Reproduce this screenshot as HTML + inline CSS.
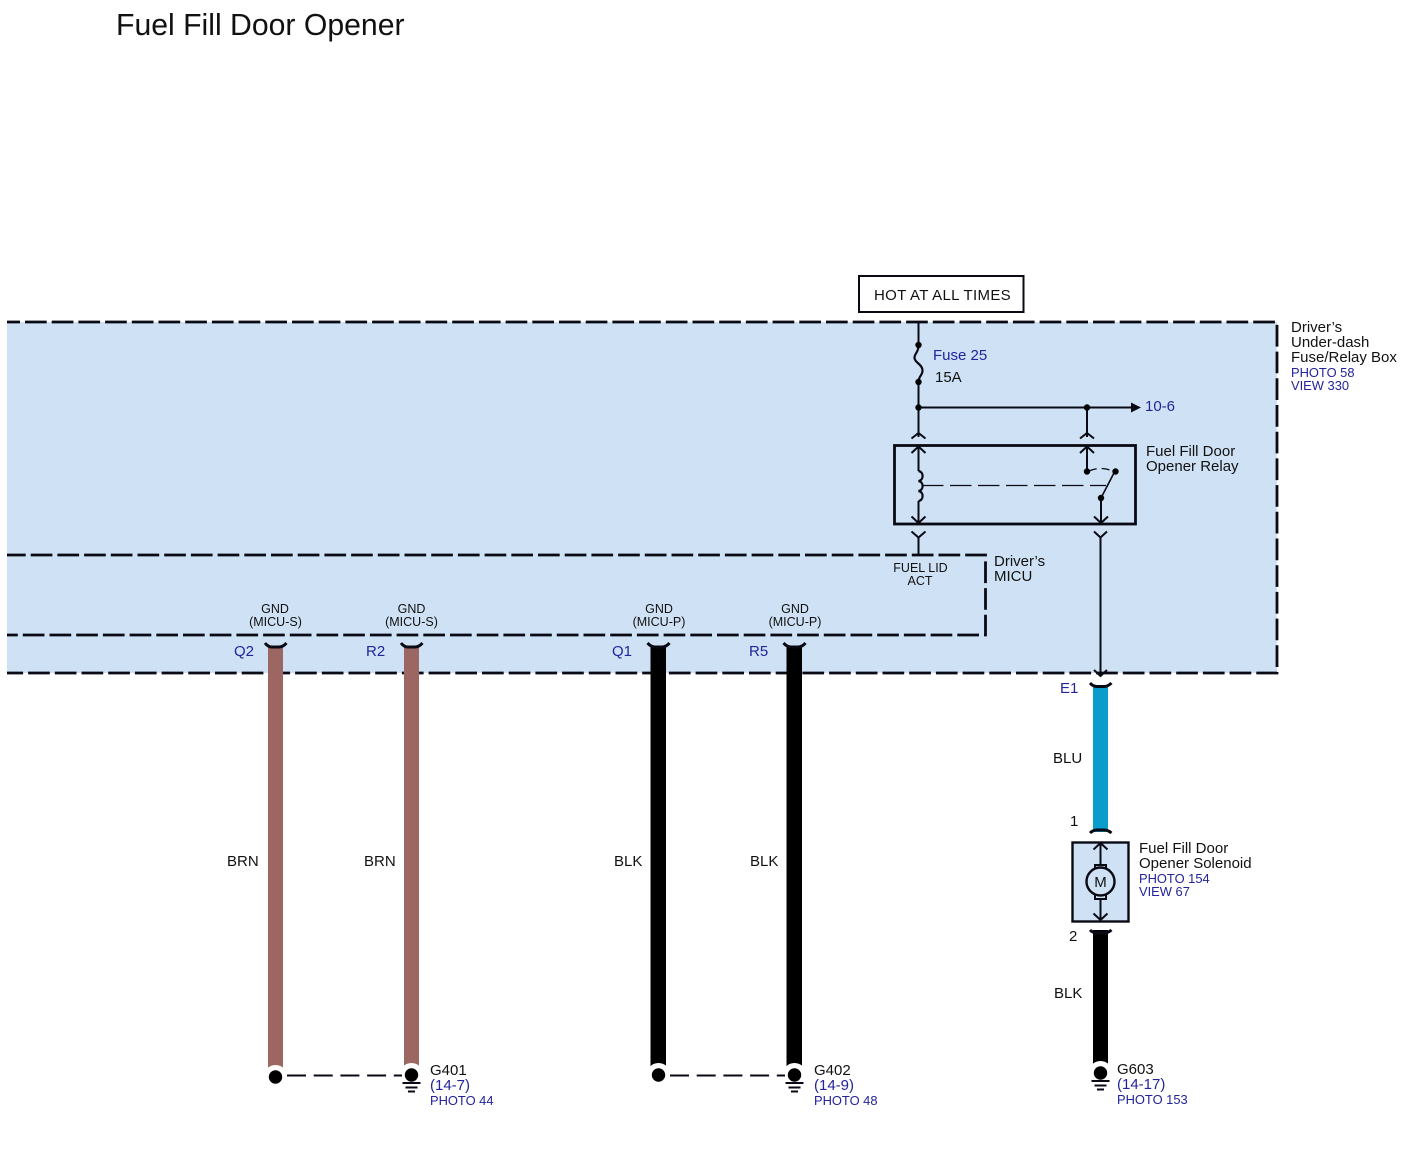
<!DOCTYPE html>
<html><head><meta charset="utf-8"><style>
html,body{margin:0;padding:0;background:#fff}
svg{display:block}
text{font-family:"Liberation Sans",sans-serif;fill:#111;font-size:15px}
.b{fill:#23239b}
.s{font-size:12.900px}
.g{font-size:12.500px}
.d{stroke:#0a0a14;stroke-width:2.800;fill:none;stroke-dasharray:21.700 5}
.l{stroke:#0a0a14;stroke-width:2;fill:none}
.c{stroke:#0a0a14;stroke-width:3;fill:none}
</style></head><body>
<svg width="1404" height="1167" viewBox="0 0 1404 1167" xmlns="http://www.w3.org/2000/svg">
<rect width="1404" height="1167" fill="#fff"/>
<text x="116" y="35" style="font-size:30.200px">Fuel Fill Door Opener</text>

<rect x="7" y="322" width="1270" height="351" fill="#cfe2f5"/>
<path class="d" stroke-dashoffset="8.700" d="M7 322H1277V673H7"/>
<path class="d" stroke-dashoffset="3" d="M7 555H985.500V635H7"/>

<rect x="859" y="276" width="164.500" height="36" fill="#fff" stroke="#0a0a14" stroke-width="2"/>
<text x="874" y="300" style="letter-spacing:.33px">HOT AT ALL TIMES</text>

<!-- Fuse -->
<path class="l" d="M918.500 322V345M918.500 382V437M918.500 407.500H1131M1087 407.500V437"/>
<path class="c" style="stroke-width:2.200" d="M918.500 345C919 352 914 354 914.500 358C915 363 922 364 922.500 370C923 375 918.500 376 918.500 382"/>
<circle cx="918.500" cy="345" r="3.200"/><circle cx="918.500" cy="382" r="3.200"/><circle cx="918.500" cy="407.500" r="3.200"/><circle cx="1087" cy="407.500" r="3.200"/>
<path d="M1131 402.500L1141 407.500L1131 412.500Z" fill="#0a0a14"/>
<text class="b" x="933" y="360">Fuse 25</text>
<text x="935" y="382">15A</text>
<text class="b" x="1145" y="411">10-6</text>

<!-- Relay -->
<path class="l" d="M911.500 438.500L918.500 433L925.500 438.500M1080 438.500L1087 433L1094 438.500"/>
<rect x="894.500" y="445.500" width="241" height="78.500" fill="none" stroke="#0a0a14" stroke-width="2.800"/>
<path class="l" d="M911.500 453L918.500 446.500L925.500 453M1080 453L1087 446.500L1094 453"/>
<path class="l" d="M918.500 447V471M918.500 501V523M1087 447V471M1101 498V523"/>
<path class="l" style="stroke-width:1.600" d="M1101 498L1115 471"/>
<path class="l" d="M911.500 516.500L918.500 523L925.500 516.500M1094 516.500L1101 523L1108 516.500"/>
<path class="c" style="stroke-width:2.200" d="M918.500 471C924 472 924 480 918.500 481C924 482 924 490 918.500 491C924 492 924 500 918.500 501"/>
<path class="l" style="stroke-width:1.300" stroke-dasharray="21.500 6.500" d="M922 485.500H1106"/>
<path class="l" style="stroke-width:1.300" stroke-dasharray="8 5" d="M1089 471Q1100 466 1113 471"/>
<circle cx="1087" cy="471.500" r="3.200"/><circle cx="1115.500" cy="471.500" r="3.200"/><circle cx="1101" cy="498" r="3.200"/>
<text x="1146" y="456">Fuel Fill Door</text>
<text x="1146" y="471">Opener Relay</text>

<path class="l" d="M911.500 531.500L918.500 537.500L925.500 531.500M1094 531.500L1100.500 537.500L1107 531.500"/>
<path class="l" d="M918.500 537V555M1100.500 537V676"/>
<path class="l" d="M1094 670L1100.500 676L1107 670"/>
<text class="g" x="920.500" y="572" text-anchor="middle">FUEL LID</text>
<text class="g" x="920" y="585" text-anchor="middle">ACT</text>
<text x="994" y="566">Driver’s</text>
<text x="994" y="581">MICU</text>

<text x="1291" y="332">Driver’s</text>
<text x="1291" y="347">Under-dash</text>
<text x="1291" y="362">Fuse/Relay Box</text>
<text class="b s" x="1291" y="377">PHOTO 58</text>
<text class="b s" x="1291" y="390">VIEW 330</text>

<!-- GND labels -->
<text class="g" x="275" y="613" text-anchor="middle">GND</text><text class="g" x="275.500" y="626" text-anchor="middle">(MICU-S)</text>
<text class="g" x="411.500" y="613" text-anchor="middle">GND</text><text class="g" x="411.500" y="626" text-anchor="middle">(MICU-S)</text>
<text class="g" x="659" y="613" text-anchor="middle">GND</text><text class="g" x="659" y="626" text-anchor="middle">(MICU-P)</text>
<text class="g" x="795" y="613" text-anchor="middle">GND</text><text class="g" x="795" y="626" text-anchor="middle">(MICU-P)</text>
<text class="b" x="234" y="656">Q2</text>
<text class="b" x="366" y="656">R2</text>
<text class="b" x="612" y="656">Q1</text>
<text class="b" x="749" y="656">R5</text>

<!-- Wires -->
<rect x="268" y="646" width="15" height="426" fill="#9c6662"/>
<rect x="404" y="646" width="15" height="424" fill="#9c6662"/>
<rect x="650.500" y="646" width="15.500" height="424" fill="#000"/>
<rect x="786.500" y="646" width="15.500" height="424" fill="#000"/>
<rect x="1093" y="686" width="15" height="146" fill="#0a9ccb"/>
<rect x="1093" y="930" width="15" height="138" fill="#000"/>

<path class="c" d="M265 643Q268 647 272 647H279Q283 647 286.500 643"/>
<path class="c" d="M401 643Q404 647 408 647H415Q419 647 422.500 643"/>
<path class="c" d="M647.500 643Q651 647 655 647H662Q666 647 669.500 643"/>
<path class="c" d="M783.500 643Q787 647 791 647H798Q802 647 805.500 643"/>
<path class="c" d="M1090 683Q1093 686.500 1097 686.500H1104Q1108 686.500 1111.500 683"/>
<path class="c" d="M1090 833Q1093 830 1097 830H1104Q1108 830 1111.500 833"/>
<path class="c" d="M1090 930Q1093 933 1097 933H1104Q1108 933 1111.500 930"/>

<text x="227" y="866">BRN</text>
<text x="364" y="866">BRN</text>
<text x="614" y="866">BLK</text>
<text x="750" y="866">BLK</text>
<text x="1053" y="763">BLU</text>
<text x="1054" y="998">BLK</text>
<text class="b" x="1060" y="693">E1</text>
<text x="1070" y="826">1</text>
<text x="1069" y="941">2</text>

<!-- Solenoid -->
<rect x="1072.500" y="842.500" width="56" height="79" fill="#cfe2f5" stroke="#0a0a14" stroke-width="2.400"/>
<path class="l" d="M1100.500 843V865M1100.500 898V920M1093.500 849.500L1100.500 843L1107.500 849.500M1093.500 913.500L1100.500 920L1107.500 913.500"/>
<rect x="1095" y="865" width="11" height="34" fill="#cfe2f5" stroke="#0a0a14" stroke-width="2"/>
<circle cx="1100.500" cy="881.500" r="14" fill="#cfe2f5" stroke="#0a0a14" stroke-width="2.400"/>
<text x="1100.500" y="887" text-anchor="middle">M</text>
<text x="1139" y="853">Fuel Fill Door</text>
<text x="1139" y="868">Opener Solenoid</text>
<text class="b s" x="1139" y="883">PHOTO 154</text>
<text class="b s" x="1139" y="896">VIEW 67</text>

<!-- Grounds -->
<g fill="#000">
<circle cx="275.500" cy="1077" r="12" fill="#fff"/><circle cx="275.500" cy="1077" r="6.700"/>
<circle cx="411.500" cy="1075" r="12" fill="#fff"/><circle cx="411.500" cy="1075" r="6.700"/>
<circle cx="658.500" cy="1075" r="12" fill="#fff"/><circle cx="658.500" cy="1075" r="6.700"/>
<circle cx="794.500" cy="1075" r="12" fill="#fff"/><circle cx="794.500" cy="1075" r="6.700"/>
<circle cx="1100.500" cy="1073" r="12" fill="#fff"/><circle cx="1100.500" cy="1073" r="6.700"/>
</g>
<path class="l" stroke-dasharray="19 7.700" d="M287 1075.500H402"/>
<path class="l" stroke-dasharray="19 7.700" d="M670 1075.500H785"/>
<path class="l" d="M402.500 1083H420.500M405.500 1087.500H417.500M408 1091.500H415"/>
<path class="l" d="M785.500 1083H803.500M788.500 1087.500H800.500M791 1091.500H798"/>
<path class="l" d="M1091.500 1081H1109.500M1094.500 1085.500H1106.500M1097 1089.500H1104"/>

<text x="430" y="1075">G401</text>
<text class="b" x="430" y="1090">(14-7)</text>
<text class="b s" x="430" y="1105">PHOTO 44</text>
<text x="814" y="1075">G402</text>
<text class="b" x="814" y="1090">(14-9)</text>
<text class="b s" x="814" y="1105">PHOTO 48</text>
<text x="1117" y="1074">G603</text>
<text class="b" x="1117" y="1089">(14-17)</text>
<text class="b s" x="1117" y="1104">PHOTO 153</text>
</svg>
</body></html>
